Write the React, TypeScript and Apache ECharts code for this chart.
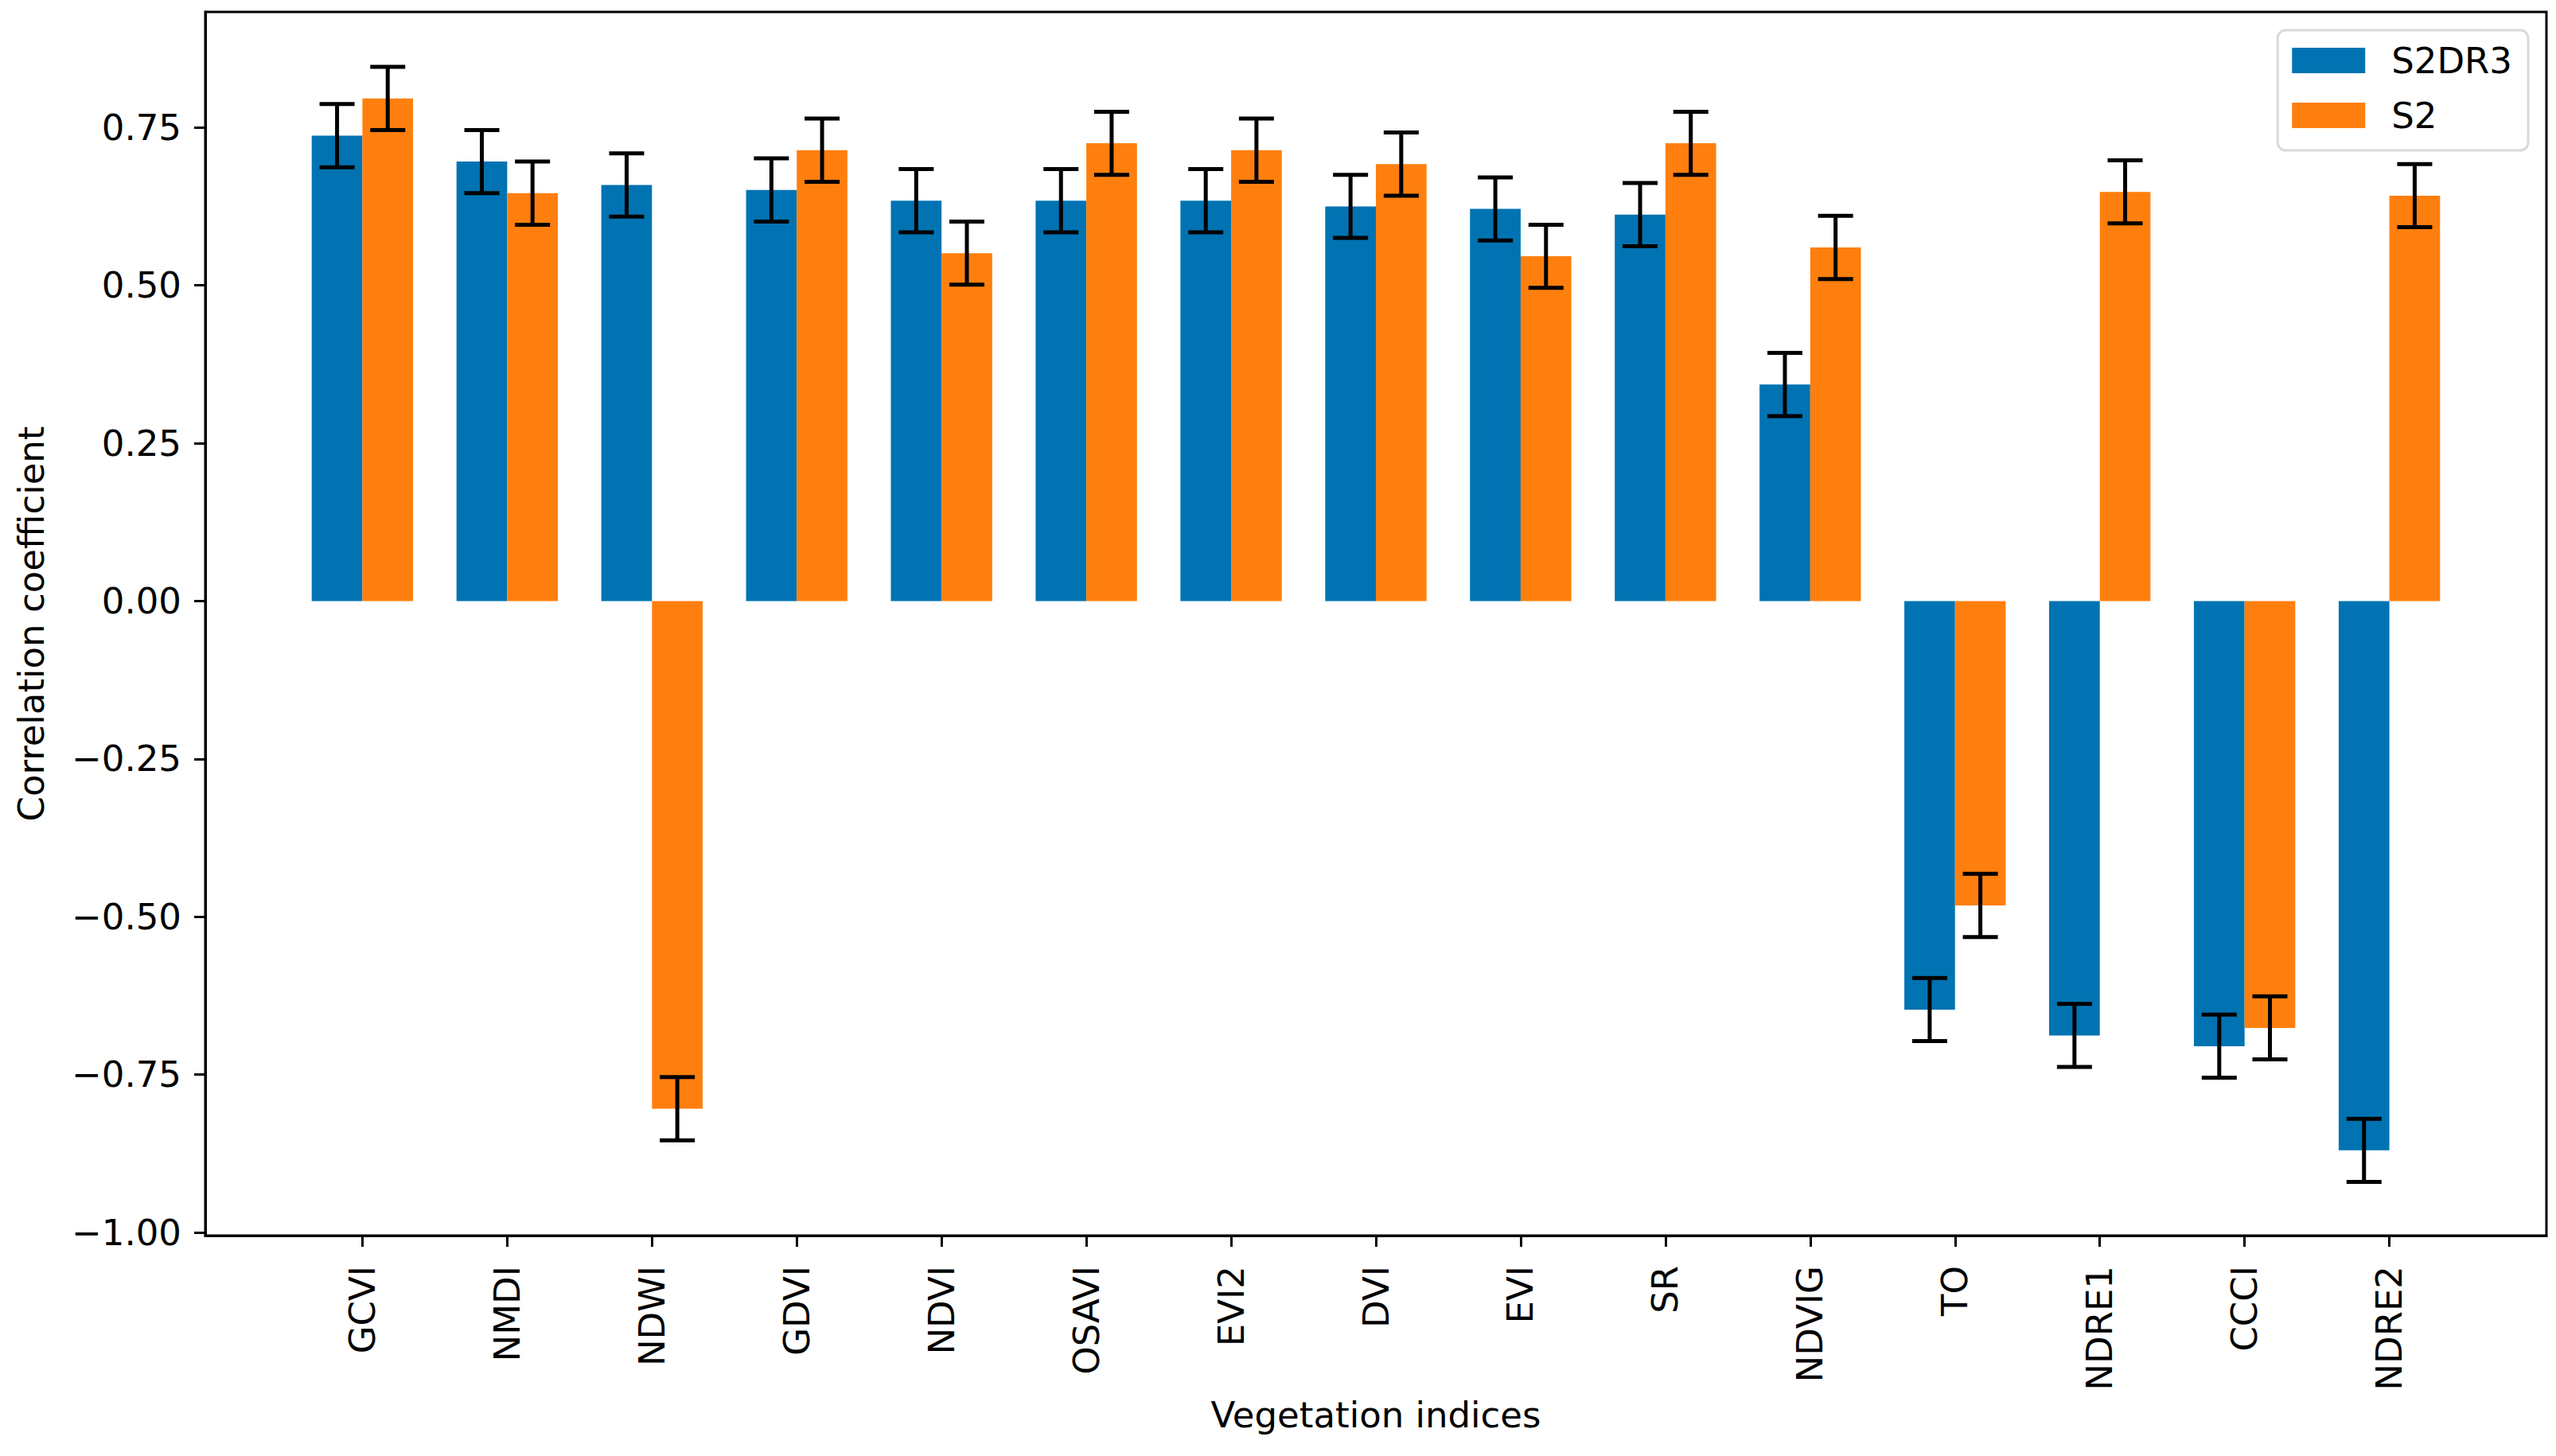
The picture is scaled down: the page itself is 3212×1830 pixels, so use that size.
import React, { useEffect, useRef } from "react";
import * as echarts from "echarts";

const categories = ["GCVI", "NMDI", "NDWI", "GDVI", "NDVI", "OSAVI", "EVI2", "DVI", "EVI", "SR", "NDVIG", "TO", "NDRE1", "CCCI", "NDRE2"];
const s2dr3Values = [0.737, 0.696, 0.659, 0.651, 0.634, 0.634, 0.634, 0.625, 0.621, 0.612, 0.343, -0.647, -0.688, -0.705, -0.87];
const s2Values = [0.796, 0.646, -0.804, 0.714, 0.551, 0.725, 0.714, 0.692, 0.546, 0.725, 0.56, -0.482, 0.648, -0.676, 0.642];
const s2dr3Errors = [0.05, 0.05, 0.05, 0.05, 0.05, 0.05, 0.05, 0.05, 0.05, 0.05, 0.05, 0.05, 0.05, 0.05, 0.05];
const s2Errors = [0.05, 0.05, 0.05, 0.05, 0.05, 0.05, 0.05, 0.05, 0.05, 0.05, 0.05, 0.05, 0.05, 0.05, 0.05];
const yTickValues = [-1, -0.75, -0.5, -0.25, 0, 0.25, 0.5, 0.75];
const seriesNames = ["S2DR3", "S2"];

const BAR_W = 0.35;
const BLUE = "#0173B2";
const ORANGE = "#FF7F0E";
const FONT = "DejaVu Sans";
const FS = 45;

const xTickValues = categories.map((_, i) => i + BAR_W / 2);

function barRenderer(color: string) {
  return (params: any, api: any) => {
    const x = api.value(0);
    const v = api.value(1);
    const p0 = api.coord([x - BAR_W / 2, 0]);
    const p1 = api.coord([x + BAR_W / 2, v]);
    return {
      type: "rect",
      shape: {
        x: Math.min(p0[0], p1[0]),
        y: Math.min(p0[1], p1[1]),
        width: Math.abs(p1[0] - p0[0]),
        height: Math.abs(p1[1] - p0[1]),
      },
      style: { fill: color },
    };
  };
}

function errRenderer(params: any, api: any) {
  const x = api.value(0);
  const v = api.value(1);
  const e = api.value(2);
  const t = api.coord([x, v + e]);
  const b = api.coord([x, v - e]);
  const cap = 22;
  const st = { stroke: "#000", lineWidth: 5 };
  return {
    type: "group",
    children: [
      { type: "line", shape: { x1: t[0], y1: t[1], x2: b[0], y2: b[1] }, style: st },
      { type: "line", shape: { x1: t[0] - cap, y1: t[1], x2: t[0] + cap, y2: t[1] }, style: st },
      { type: "line", shape: { x1: b[0] - cap, y1: b[1], x2: b[0] + cap, y2: b[1] }, style: st },
    ],
  };
}

function fmtY(v: number) {
  const s = Math.abs(v).toFixed(2);
  return v < -1e-9 ? "\u2212" + s : s;
}

export default function App() {
  const ref = useRef<HTMLDivElement>(null);
  useEffect(() => {
    if (!ref.current) return;
    const chart = echarts.init(ref.current, null, { renderer: "svg" });
    const blueData = s2dr3Values.map((v, i) => [i, v]);
    const orangeData = s2Values.map((v, i) => [i + BAR_W, v]);
    const blueErr = s2dr3Values.map((v, i) => [i, v, s2dr3Errors[i]]);
    const orangeErr = s2Values.map((v, i) => [i + BAR_W, v, s2Errors[i]]);
    chart.setOption({
      animation: false,
      backgroundColor: "#fff",
      textStyle: { fontFamily: FONT },
      grid: {
        left: 258,
        right: 12,
        top: 15,
        bottom: 277,
        show: true,
        borderColor: "#000",
        borderWidth: 3,
        backgroundColor: "transparent",
      },
      legend: {
        data: seriesNames,
        orient: "vertical",
        right: 35,
        top: 38,
        itemWidth: 92,
        itemHeight: 32,
        itemGap: 23,
        icon: "rect",
        padding: [15, 20, 21, 18],
        backgroundColor: "rgba(255,255,255,0.8)",
        borderColor: "#d9d9d9",
        borderWidth: 3,
        borderRadius: 10,
        textStyle: {
          fontFamily: FONT,
          fontSize: FS,
          color: "#000",
          lineHeight: 46,
          padding: [0, 0, 0, 28],
        },
      },
      xAxis: {
        type: "value",
        min: -0.91,
        max: 15.26,
        name: "Vegetation indices",
        nameLocation: "middle",
        nameGap: 203,
        nameTextStyle: { fontFamily: FONT, fontSize: FS, color: "#000" },
        axisLine: { show: true, onZero: false, lineStyle: { color: "#000", width: 3 } },
        axisTick: {
          show: true,
          length: 14,
          lineStyle: { color: "#000", width: 3 },
          customValues: xTickValues,
        },
        axisLabel: {
          show: true,
          rotate: 90,
          margin: 38,
          fontFamily: FONT,
          fontSize: FS,
          color: "#000",
          customValues: xTickValues,
          formatter: (v: number) => categories[Math.round(v - BAR_W / 2)] ?? "",
        },
        splitLine: { show: false },
      },
      yAxis: {
        type: "value",
        min: -1.005,
        max: 0.933,
        name: "Correlation coefficient",
        nameLocation: "middle",
        nameGap: 196,
        nameRotate: 90,
        nameTextStyle: { fontFamily: FONT, fontSize: FS, color: "#000" },
        axisLine: { show: true, onZero: false, lineStyle: { color: "#000", width: 3 } },
        axisTick: {
          show: true,
          length: 14,
          lineStyle: { color: "#000", width: 3 },
          customValues: yTickValues,
        },
        axisLabel: {
          show: true,
          margin: 30,
          fontFamily: FONT,
          fontSize: FS,
          color: "#000",
          customValues: yTickValues,
          formatter: (v: number) => fmtY(v),
        },
        splitLine: { show: false },
      },
      series: [
        {
          name: seriesNames[0],
          type: "custom",
          renderItem: barRenderer(BLUE),
          itemStyle: { color: BLUE },
          data: blueData,
          z: 2,
        },
        {
          name: seriesNames[1],
          type: "custom",
          renderItem: barRenderer(ORANGE),
          itemStyle: { color: ORANGE },
          data: orangeData,
          z: 2,
        },
        {
          name: "S2DR3 error",
          type: "custom",
          renderItem: errRenderer,
          data: blueErr,
          z: 3,
        },
        {
          name: "S2 error",
          type: "custom",
          renderItem: errRenderer,
          data: orangeErr,
          z: 3,
        },
      ],
    });
    return () => chart.dispose();
  }, []);
  return (
    <div
      ref={ref}
      style={{ position: "fixed", left: 0, top: 0, width: 3212, height: 1830, background: "#fff" }}
    />
  );
}
